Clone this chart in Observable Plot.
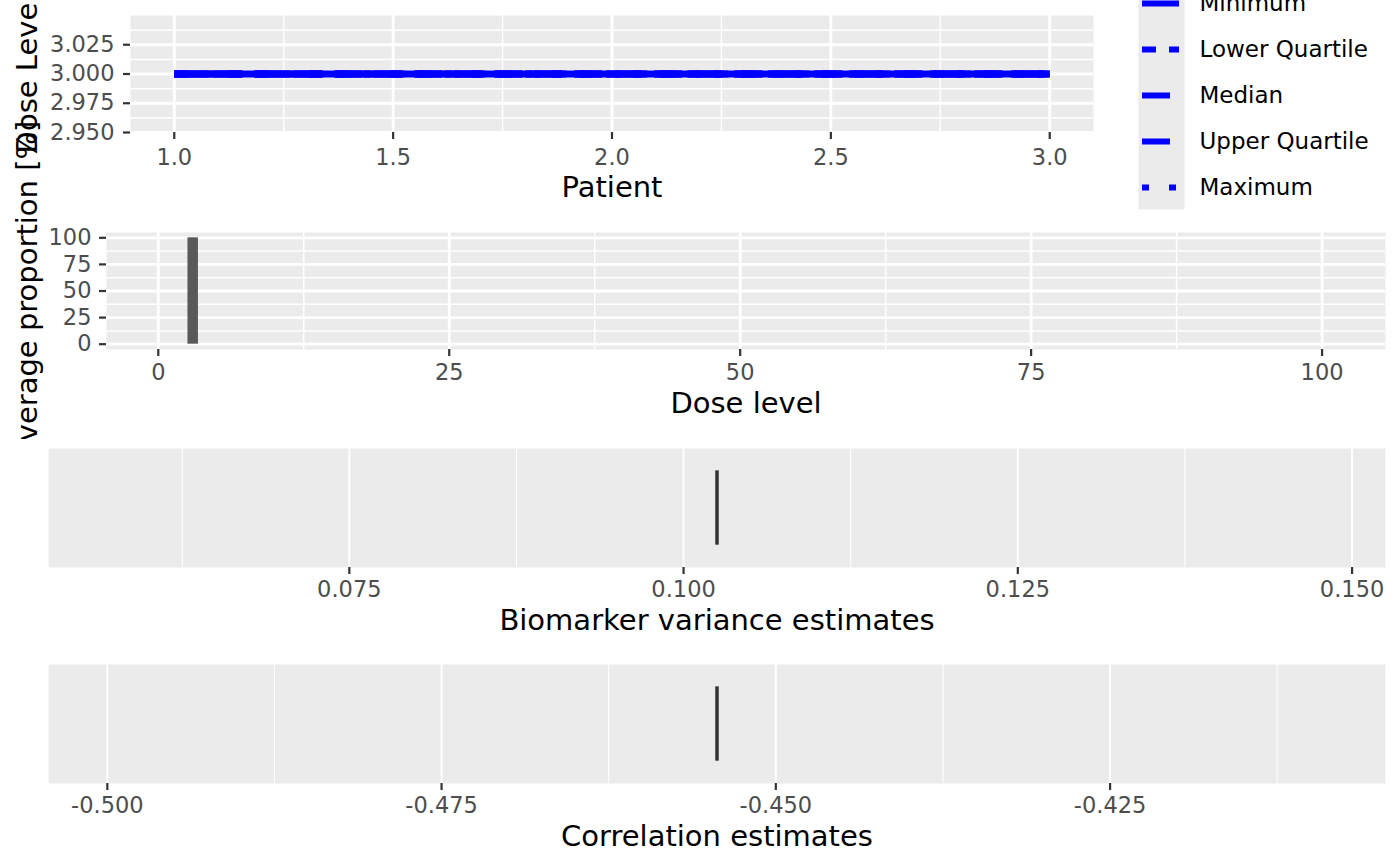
<!DOCTYPE html>
<html>
<head>
<meta charset="utf-8">
<script src="https://cdn.jsdelivr.net/npm/d3@7"></script>
<script src="https://cdn.jsdelivr.net/npm/@observablehq/plot@0.6"></script>
<style>
  body { margin: 0; background: #fff; }
  #root { position: relative; width: 1400px; height: 866px; overflow: hidden; font-family: "DejaVu Sans"; background: #fff; }
  .panel { position: absolute; left: 0; }
  #yclip { position: absolute; left: 0; top: 0; width: 80px; height: 439px; overflow: hidden; z-index: 3; }
  .ytitle { position: absolute; white-space: nowrap; font-size: 29px; line-height: 1; color: #000;
            transform: translate(-50%, -50%) rotate(-90deg); font-family: "DejaVu Sans"; }
</style>
</head>
<body>
<div id="root">
  <div id="yclip">
    <div class="ytitle" id="yt1">Dose Level</div>
    <div class="ytitle" id="yt2">Average proportion [%]</div>
  </div>
</div>
<script>
// ---------- data ----------
const patients = [1, 2, 3];
const seriesNames = ["Minimum", "Lower Quartile", "Median", "Upper Quartile", "Maximum"];
const doseMinimum = [3, 3, 3];
const doseLowerQuartile = [3, 3, 3];
const doseMedian = [3, 3, 3];
const doseUpperQuartile = [3, 3, 3];
const doseMaximum = [3, 3, 3];

const doseLevels = [3];
const avgProportion = [100];

const biomarkerVariance = [0.1025];
const correlationEst = [-0.4544];

// tick labels
const p1XTicks = [1, 1.5, 2, 2.5, 3];
const p1XMinor = [1.25, 1.75, 2.25, 2.75];
const p1YTicks = [2.95, 2.975, 3.0, 3.025];
const p1YMinor = [2.9625, 2.9875, 3.0125, 3.0375];
const p2XTicks = [0, 25, 50, 75, 100];
const p2XMinor = [12.5, 37.5, 62.5, 87.5];
const p2YTicks = [0, 25, 50, 75, 100];
const p2YMinor = [12.5, 37.5, 62.5, 87.5];
const p3XTicks = [0.075, 0.1, 0.125, 0.15];
const p3XMinor = [0.0625, 0.0875, 0.1125, 0.1375];
const p4XTicks = [-0.5, -0.475, -0.45, -0.425];
const p4XMinor = [-0.4875, -0.4625, -0.4375, -0.4125];

// ---------- helpers ----------
const expand = ([a, b]) => a === b ? [a - 0.05, b + 0.05] : [a - 0.05 * (b - a), b + 0.05 * (b - a)];
const BG = "#EBEBEB";
const TICKFONT = 22.5, TITLEFONT = 29;
const font = {fontFamily: "DejaVu Sans", background: "transparent", overflow: "visible"};
const seriesValues = [doseMinimum, doseLowerQuartile, doseMedian, doseUpperQuartile, doseMaximum];
const dashes = ["none", "14,13", "28,12", "28,12", "7,20"];
const root = document.getElementById("root");
function place(svg, top) { svg.classList.add("panel"); svg.style.top = top + "px"; svg.style.position = "absolute"; svg.style.left = "0px"; root.appendChild(svg); }
const axStyle = {stroke: "#333333", fill: "#4D4D4D", strokeWidth: 2.2, tickSize: 7, fontSize: TICKFONT, label: null};

// ---------- panel 1 ----------
const lineData = seriesNames.map((s, i) => patients.map((p, j) => ({series: s, patient: p, dose: seriesValues[i][j]})));
const p1 = Plot.plot({
  width: 1400, height: 215, marginTop: 15, marginBottom: 83, marginLeft: 130, marginRight: 307,
  style: font,
  x: {domain: expand(d3.extent(patients)), label: null},
  y: {domain: expand(d3.extent(seriesValues.flat())), label: null},
  marks: [
    Plot.frame({fill: BG, stroke: null}),
    Plot.ruleX(p1XMinor, {stroke: "white", strokeWidth: 1.5}),
    Plot.ruleY(p1YMinor, {stroke: "white", strokeWidth: 1.5}),
    Plot.ruleX(p1XTicks, {stroke: "white", strokeWidth: 2.8}),
    Plot.ruleY(p1YTicks, {stroke: "white", strokeWidth: 2.8}),
    ...lineData.map((d, i) => Plot.line(d, {x: "patient", y: "dose", stroke: "blue", strokeWidth: 7, strokeLinecap: "butt", strokeDasharray: dashes[i]})),
    Plot.axisX(p1XTicks, {...axStyle, tickPadding: 10, tickFormat: d => d.toFixed(1)}),
    Plot.axisY(p1YTicks, {...axStyle, tickPadding: 9, tickFormat: d => d.toFixed(3)}),
    Plot.text(["Patient"], {text: d => d, frameAnchor: "bottom", dy: 64, fontSize: TITLEFONT, fill: "black"})
  ]
});
place(p1, 0);

// ---------- legend ----------
const leg = Plot.plot({
  width: 262, height: 230, marginTop: 0, marginBottom: 1, marginLeft: 4, marginRight: 221,
  style: font,
  x: {domain: [0, 1], axis: null},
  y: {type: "point", domain: seriesNames, range: [23, 207], padding: 0, axis: null},
  marks: [
    Plot.frame({fill: BG, stroke: null, insetLeft: -4, insetRight: -5}),
    ...seriesNames.map((s, i) => Plot.ruleY([s], {y: d => d, x1: 0, x2: 1, stroke: "blue", strokeWidth: 6, strokeDasharray: dashes[i]})),
    Plot.text(seriesNames, {text: d => d, y: d => d, x: 1, dx: 20, textAnchor: "start", fontSize: 23, fill: "black"})
  ]
});
leg.style.position = "absolute"; leg.style.left = "1138px"; leg.style.top = "-20px";
root.appendChild(leg);

// ---------- panel 2 ----------
const barData = doseLevels.map((d, i) => ({dose: d, pct: avgProportion[i]}));
const p2 = Plot.plot({
  width: 1400, height: 225, marginTop: 17, marginBottom: 91, marginLeft: 106, marginRight: 15,
  style: font,
  x: {domain: [-4.45, 105.45], label: null},
  y: {domain: expand([0, 100]), label: null},
  marks: [
    Plot.frame({fill: BG, stroke: null}),
    Plot.ruleX(p2XMinor, {stroke: "white", strokeWidth: 1.5}),
    Plot.ruleY(p2YMinor, {stroke: "white", strokeWidth: 1.5}),
    Plot.ruleX(p2XTicks, {stroke: "white", strokeWidth: 2.8}),
    Plot.ruleY(p2YTicks, {stroke: "white", strokeWidth: 2.8}),
    Plot.rect(barData, {x1: d => d.dose - 0.45, x2: d => d.dose + 0.45, y1: () => 0, y2: "pct", fill: "#595959"}),
    Plot.axisX(p2XTicks, {...axStyle, tickPadding: 8, tickFormat: d => String(d)}),
    Plot.axisY(p2YTicks, {...axStyle, tickPadding: 8, tickFormat: d => String(d)}),
    Plot.text(["Dose level"], {text: d => d, frameAnchor: "bottom", dy: 63, fontSize: TITLEFONT, fill: "black"})
  ]
});
place(p2, 215);

// ---------- panel 3 & 4 ----------
function estPanel(values, ticks, minor, title, top, mt, h) {
  const v = values[0];
  const half = 0.375;
  return Plot.plot({
    width: 1400, height: h, marginTop: mt, marginBottom: 83, marginLeft: 48, marginRight: 15,
    style: font,
    x: {domain: expand([v, v]), label: null},
    y: {domain: [0.4, 1.6], axis: null},
    marks: [
      Plot.frame({fill: BG, stroke: null}),
      Plot.ruleX(minor, {stroke: "white", strokeWidth: 1.1}),
      Plot.ruleX(ticks, {stroke: "white", strokeWidth: 2}),
      Plot.ruleX(values, {x: d => d, y1: () => 1 - half, y2: () => 1 + half, stroke: "#333333", strokeWidth: 3.5}),
      Plot.axisX(ticks, {...axStyle, tickPadding: 7, tickFormat: d => d.toFixed(3)}),
      Plot.text([title], {text: d => d, frameAnchor: "bottom", dy: 62, fontSize: TITLEFONT, fill: "black"})
    ]
  });
}
place(estPanel(biomarkerVariance, p3XTicks, p3XMinor, "Biomarker variance estimates", 440, 8, 210), 440);
place(estPanel(correlationEst, p4XTicks, p4XMinor, "Correlation estimates", 650, 14, 216), 650);

// ---------- y titles ----------
const yt1 = document.getElementById("yt1");
yt1.style.left = "27px"; yt1.style.top = "73.5px";
const yt2 = document.getElementById("yt2");
yt2.style.left = "27px"; yt2.style.top = "289.5px";
</script>
</body>
</html>
